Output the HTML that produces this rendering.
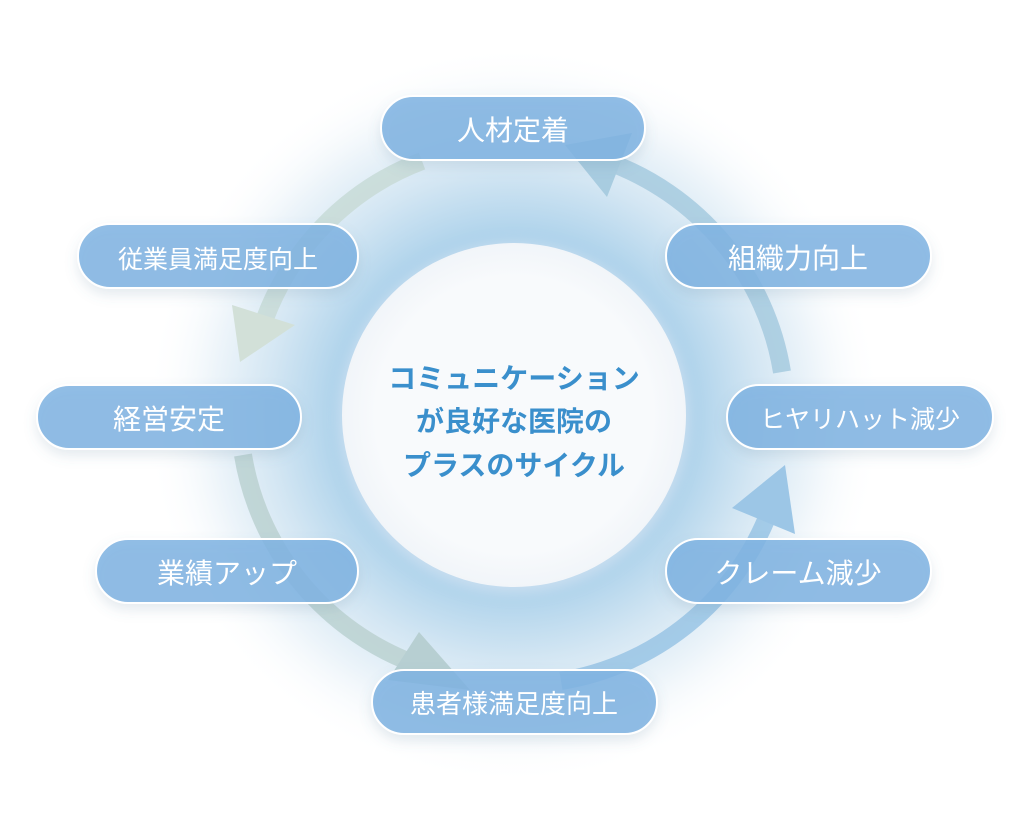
<!DOCTYPE html>
<html><head><meta charset="utf-8"><style>
html,body{margin:0;padding:0;background:#fff;}
svg{display:block}
text{font-family:"Liberation Sans","Noto Sans CJK JP",sans-serif;}
</style></head><body>
<svg width="1030" height="838" viewBox="0 0 1030 838" xmlns="http://www.w3.org/2000/svg">
<defs>
<radialGradient id="glow" cx="514" cy="415" r="370" gradientUnits="userSpaceOnUse">
<stop offset="0" stop-color="#9fcbe8"/>
<stop offset="0.46" stop-color="#a9d0ea"/>
<stop offset="0.66" stop-color="#d3e6f3"/>
<stop offset="0.82" stop-color="#eef5fa"/>
<stop offset="1" stop-color="#ffffff" stop-opacity="0"/>
</radialGradient>
<radialGradient id="inner" cx="514" cy="415" r="172" gradientUnits="userSpaceOnUse">
<stop offset="0.8" stop-color="#f8fafc"/>
<stop offset="1" stop-color="#f1f5f9"/>
</radialGradient>
<filter id="sh" x="-20%" y="-30%" width="140%" height="170%"><feDropShadow dx="0" dy="6" stdDeviation="6" flood-color="#5a7e9a" flood-opacity="0.18"/></filter>
<filter id="blur"><feGaussianBlur stdDeviation="6"/></filter>
</defs>
<rect width="1030" height="838" fill="#fff"/>
<circle cx="514" cy="415" r="370" fill="url(#glow)"/>
<circle cx="514" cy="418" r="176" fill="#c8def0" filter="url(#blur)"/>
<circle cx="514" cy="415" r="172" fill="url(#inner)"/>

<g fill="none" stroke-width="18">
<path d="M782 372 A270 270 0 0 0 606 161" stroke="#a8cce0" opacity="0.9"/>
<path d="M422 161 A270 270 0 0 0 262 327" stroke="#c9dcd8" opacity="0.9"/>
<path d="M243 455 A270 270 0 0 0 405 660" stroke="#bcd3d3" opacity="0.9"/>
<path d="M561 681 A270 270 0 0 0 770 510" stroke="#9cc6e6" opacity="0.9"/>
</g>
<polygon points="632,133 607,197 565,145" fill="#a8cce0"/>
<polygon points="240,362 232,305 295,325" fill="#d2e0d8"/>
<polygon points="419,632 470,690 388,680" fill="#b7cfd2"/>
<polygon points="785,465 732,508 795,534" fill="#9cc6e6"/>

<g font-weight="bold" font-size="28" fill="#3a8fcc" text-anchor="middle">
<text x="514" y="388">コミュニケーション</text>
<text x="514" y="431">が良好な医院の</text>
<text x="514" y="475">プラスのサイクル</text>
</g>

<g filter="url(#sh)" fill="#7fb3e2" fill-opacity="0.85" stroke="#fff" stroke-width="2">
<rect x="381" y="96" width="264" height="64" rx="32"/>
<rect x="78" y="224" width="280" height="64" rx="32"/>
<rect x="666" y="224" width="265" height="64" rx="32"/>
<rect x="37" y="385" width="264" height="64" rx="32"/>
<rect x="727" y="385" width="266" height="64" rx="32"/>
<rect x="96" y="539" width="262" height="64" rx="32"/>
<rect x="666" y="539" width="265" height="64" rx="32"/>
<rect x="372" y="670" width="285" height="64" rx="32"/>
</g>
<g fill="#fff" font-size="28" text-anchor="middle">
<text x="513" y="140">人材定着</text>
<text x="218" y="268" font-size="25">従業員満足度向上</text>
<text x="798" y="268">組織力向上</text>
<text x="169" y="429">経営安定</text>
<text x="860" y="428" font-size="25">ヒヤリハット減少</text>
<text x="227" y="583">業績アップ</text>
<text x="798" y="583">クレーム減少</text>
<text x="514" y="713" font-size="26">患者様満足度向上</text>
</g>
</svg>
</body></html>
